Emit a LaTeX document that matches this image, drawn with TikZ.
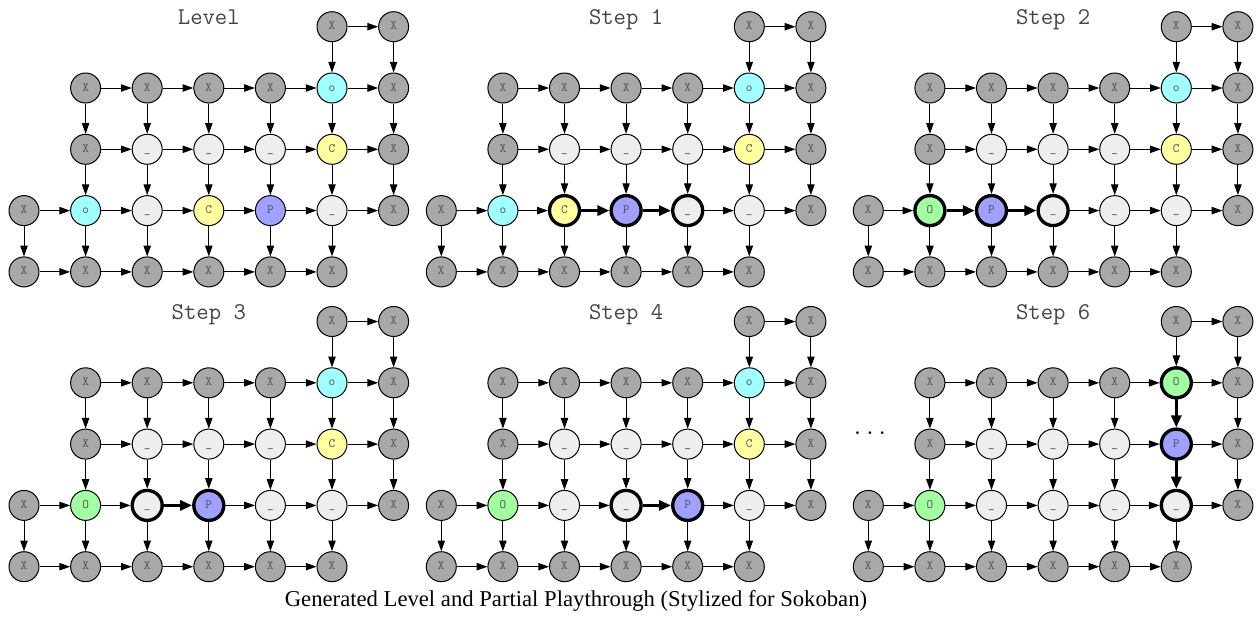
\documentclass[tikz,border=0pt]{standalone}
\usepackage{fontspec}
\usetikzlibrary{arrows.meta}
\newfontfamily\capfont{Liberation Serif}

\definecolor{wallgray}{HTML}{A8A8A8}
\definecolor{floorgray}{HTML}{EEEEEE}
\definecolor{goalcyan}{HTML}{A0FFFF}
\definecolor{crateyellow}{HTML}{FFFFA0}
\definecolor{playerblue}{HTML}{A0A0FF}
\definecolor{goalgreen}{HTML}{A0FFA0}
\definecolor{labelgray}{HTML}{555555}
\definecolor{titlegray}{HTML}{444444}

\tikzset{
  cell/.style={circle, draw=black, line width=0.75pt, minimum size=22.5pt,
    inner sep=0pt, text=labelgray, text height=6pt, text depth=1.5pt,
    font=\ttfamily\fontsize{9.5}{9.5}\selectfont},
  wall/.style={cell, fill=wallgray, node contents={X}},
  floor/.style={cell, fill=floorgray, node contents={\_}},
  goal/.style={cell, fill=goalcyan, node contents={o}},
  crate/.style={cell, fill=crateyellow, node contents={C}},
  player/.style={cell, fill=playerblue, node contents={P}},
  filled/.style={cell, fill=goalgreen, node contents={O}},
  hot/.style={line width=2.5pt},
  link/.style={draw=black, line width=0.75pt,
    -{Triangle[length=8pt,width=5.5pt]}},
  boldlink/.style={line width=2.5pt, -{Triangle[length=9pt,width=7.5pt]}},
  title/.style={anchor=base, text=titlegray,
    font=\ttfamily\fontsize{18}{18}\selectfont},
}

% One board: #1 id, #2 x of column 0, #3 y of row 0, #4 title,
% #5 changes to the starting cells and moves (c<row><col>, h<row><col>, v<row><col>)
\newcommand\board[5]{%
  \begin{scope}
  \tikzset{%
    c05/.style=wall, c06/.style=wall,
    c11/.style=wall, c12/.style=wall, c13/.style=wall, c14/.style=wall,
    c15/.style=goal, c16/.style=wall,
    c21/.style=wall, c22/.style=floor, c23/.style=floor, c24/.style=floor,
    c25/.style=crate, c26/.style=wall,
    c30/.style=wall, c31/.style=goal, c32/.style=floor, c33/.style=crate,
    c34/.style=player, c35/.style=floor, c36/.style=wall,
    c40/.style=wall, c41/.style=wall, c42/.style=wall, c43/.style=wall,
    c44/.style=wall, c45/.style=wall,#5}%
  \node[title] (#1-title) at (#2+3*61.6, #3-2) {#4};
  \foreach \r/\c in {0/5,0/6,
      1/1,1/2,1/3,1/4,1/5,1/6,
      2/1,2/2,2/3,2/4,2/5,2/6,
      3/0,3/1,3/2,3/3,3/4,3/5,3/6,
      4/0,4/1,4/2,4/3,4/4,4/5}
    \node[c\r\c, name=#1-\r\c, at={(#2+\c*61.6, #3+\r*61.3)}];
  % rightward moves
  \foreach \r/\a/\b in {0/5/6,
      1/1/2,1/2/3,1/3/4,1/4/5,1/5/6,
      2/1/2,2/2/3,2/3/4,2/4/5,2/5/6,
      3/0/1,3/1/2,3/2/3,3/3/4,3/4/5,3/5/6,
      4/0/1,4/1/2,4/2/3,4/3/4,4/4/5}
    \draw[link, h\r\a/.try] (#1-\r\a) -- (#1-\r\b);
  % downward moves
  \foreach \a/\b/\c in {0/1/5,0/1/6,
      1/2/1,1/2/2,1/2/3,1/2/4,1/2/5,1/2/6,
      2/3/1,2/3/2,2/3/3,2/3/4,2/3/5,2/3/6,
      3/4/0,3/4/1,3/4/2,3/4/3,3/4/4,3/4/5}
    \draw[link, v\a\c/.try] (#1-\a\c) -- (#1-\b\c);
  \end{scope}
}

\begin{document}
\begin{tikzpicture}[x=0.75pt, y=-0.75pt]
  \useasboundingbox (0,0) rectangle (1260,622);

  \board{lv}{24}{26.7}{Level}{}
  \board{sa}{441.3}{26.7}{Step 1}{%
    c32/.style={crate,hot}, c33/.style={player,hot}, c34/.style={floor,hot},
    h32/.style=boldlink, h33/.style=boldlink}
  \board{sb}{868.3}{26.7}{Step 2}{%
    c31/.style={filled,hot}, c32/.style={player,hot}, c33/.style={floor,hot},
    c34/.style=floor, h31/.style=boldlink, h32/.style=boldlink}
  \board{sc}{24}{321.5}{Step 3}{%
    c31/.style=filled, c32/.style={floor,hot}, c33/.style={player,hot},
    c34/.style=floor, h32/.style=boldlink}
  \board{sd}{441.3}{321.5}{Step 4}{%
    c31/.style=filled, c33/.style={floor,hot}, c34/.style={player,hot},
    h33/.style=boldlink}
  \board{sf}{868.3}{321.5}{Step 6}{%
    c15/.style={filled,hot}, c25/.style={player,hot}, c35/.style={floor,hot},
    c31/.style=filled, c33/.style=floor, c34/.style=floor,
    v15/.style=boldlink, v25/.style=boldlink}

  \node[anchor=base, font=\ttfamily\fontsize{18}{18}\selectfont] (gap) at (870,434.5) {...};

  \node[anchor=base, font=\capfont\fontsize{17}{17}\selectfont] (caption) at (576,606)
    {Generated Level and Partial Playthrough (Stylized for Sokoban)};
\end{tikzpicture}
\end{document}
